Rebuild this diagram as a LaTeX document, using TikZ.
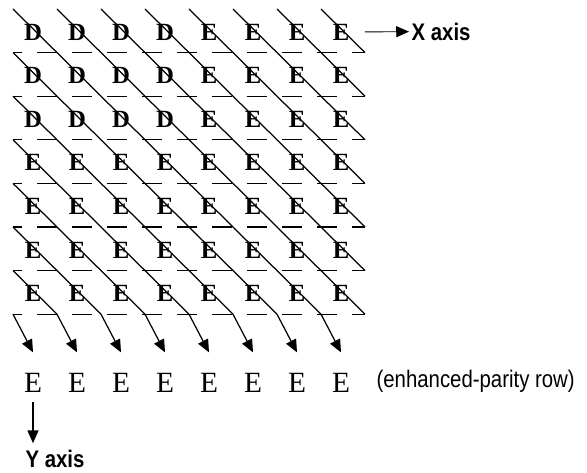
\documentclass[tikz,border=0pt]{standalone}
\usepackage{fontspec}
\setmainfont{Liberation Serif}
\newfontfamily\lblfont[FakeStretch=0.85]{Liberation Sans}
\usetikzlibrary{arrows.meta}

\begin{document}
\begin{tikzpicture}[x=0.02273cm,y=-0.02273cm,
		cell/.style={font=\fontsize{16}{18}\selectfont\bfseries,inner sep=2pt},
		base/.style={font=\fontsize{19}{21}\selectfont,inner sep=2pt},
		lbl/.style={font=\lblfont\fontsize{15.5}{17}\selectfont,inner sep=1.5pt},
		axis/.style={font=\lblfont\bfseries\fontsize{15.5}{17}\selectfont,inner sep=1.5pt},
		slash/.style={line width=0.8pt},
		rule/.style={line width=0.8pt,dash pattern=on 0.4545cm off 0.3409cm,dash phase=0.25cm},
		flow/.style={line width=0.8pt,-{Triangle[length=0.29cm,width=0.25cm]}}]
		\useasboundingbox (0,0) rectangle (587,473);
		
		\foreach \row in {0,...,7}
			\foreach \col in {0,...,8}
				\coordinate (g-\row-\col) at ({13+44*\col},{9+43.6*\row});
		
		\foreach \row in {1,...,7}
			\foreach \col in {1,...,8}
				\node[cell] (l-\row-\col) at ({-11+44*\col},{-11.6+43.6*\row}) {\ifnum\row<4 \ifnum\col<5 D\else E\fi\else E\fi};
		
		\foreach \row in {0,...,6}
			\foreach \col in {0,...,7}{
				\pgfmathtruncatemacro\nrow{\row+1}
				\pgfmathtruncatemacro\ncol{\col+1}
				\draw[slash] (g-\row-\col) -- (g-\nrow-\ncol);
			}
		
		\foreach \row in {1,...,7}
			\draw[rule] (g-\row-0) -- (g-\row-8);
		
		\node[axis,anchor=west] (xl) at (409,31.5) {X axis};
		\draw[flow,line width=0.6pt,shorten <=0.28cm] (l-1-8) -- (xl);
		
		\foreach \col in {1,...,8}
			\node[base] (p-\col) at ({-11+44*\col},383) {E};
		\foreach \col in {1,...,8}{
			\pgfmathtruncatemacro\pcol{\col-1}
			\draw[flow] (g-7-\pcol) -- ([yshift=0.4cm]p-\col.north);
		}
		
		\node[lbl,anchor=west] (note) at (374,381) {(enhanced-parity row)};
		
		\node[axis] (yl) at (55,459) {Y axis};
		\draw[flow,shorten <=0.13cm,shorten >=0.1cm] (p-1.south) -- (p-1.south |- yl.north);
	\end{tikzpicture}
\end{document}
